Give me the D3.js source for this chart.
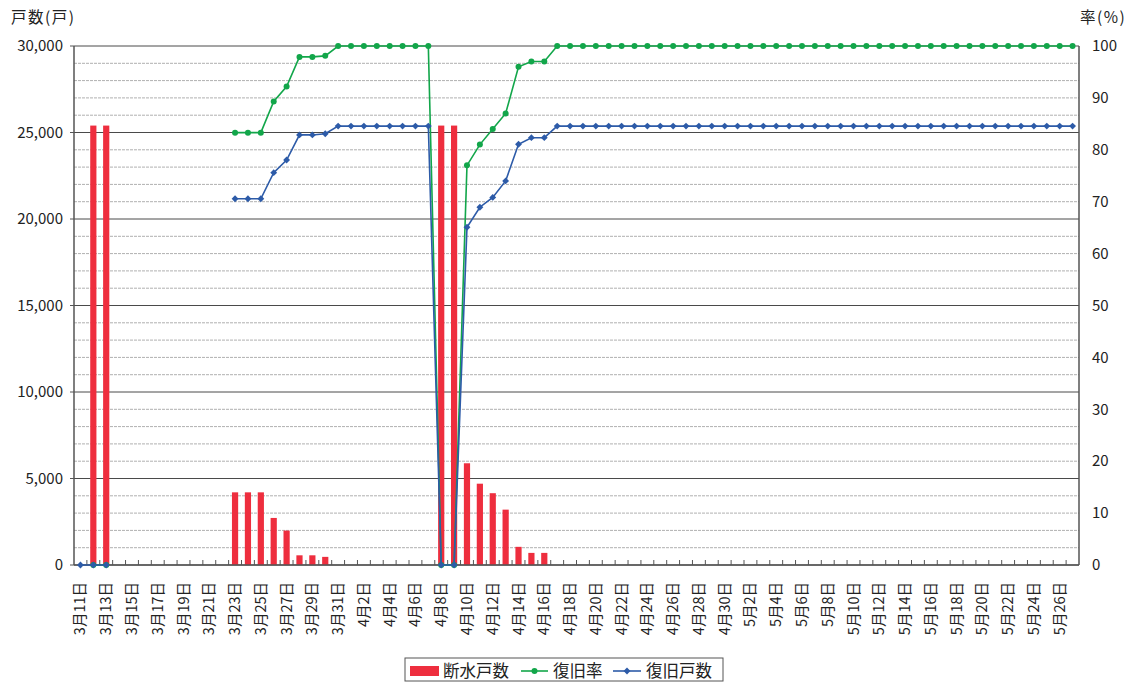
<!DOCTYPE html>
<html><head><meta charset="utf-8">
<script src="https://cdn.jsdelivr.net/npm/d3@7/dist/d3.min.js"></script>
<style>
body{margin:0;background:#fff}
text{font-family:"Noto Sans CJK JP","Noto Sans",sans-serif;fill:#222}
</style></head>
<body>
<svg id="c" width="1138" height="682"></svg>
<script>
// ---- categories (3/11 .. 5/27) ----
const monthSpans = [[3, 11, 31], [4, 1, 30], [5, 1, 27]];
const categories = [];
monthSpans.forEach(([m, s, e]) => { for (let d = s; d <= e; d++) categories.push(m + "月" + d + "日"); });

// ---- series ----
const outage = [
  0, 25400, 25400, null, null, null, null, null, null, null,
  null, null, 4200, 4200, 4200, 2720, 1990, 560, 560, 470,
  0, 0, 0, 0, 0, 0, 0, 0, 25400, 25400,
  5880, 4700, 4150, 3200, 1050, 700, 700, 0, 0, 0,
  0, 0, 0, 0, 0, 0, 0, 0, 0, 0,
  0, 0, 0, 0, 0, 0, 0, 0, 0, 0,
  0, 0, 0, 0, 0, 0, 0, 0, 0, 0,
  0, 0, 0, 0, 0, 0, 0, 0
];
const recovered = [
  0, 0, 0, null, null, null, null, null, null, null,
  null, null, 21170, 21170, 21170, 22680, 23410, 24860, 24860, 24930,
  25370, 25370, 25370, 25370, 25370, 25370, 25370, 25370, 0, 0,
  19520, 20680, 21250, 22200, 24320, 24700, 24700, 25370, 25370, 25370,
  25370, 25370, 25370, 25370, 25370, 25370, 25370, 25370, 25370, 25370,
  25370, 25370, 25370, 25370, 25370, 25370, 25370, 25370, 25370, 25370,
  25370, 25370, 25370, 25370, 25370, 25370, 25370, 25370, 25370, 25370,
  25370, 25370, 25370, 25370, 25370, 25370, 25370, 25370
];
const rate = [
  null, 0, 0, null, null, null, null, null, null, null,
  null, null, 83.3, 83.3, 83.3, 89.3, 92.2, 97.9, 97.9, 98.1,
  100, 100, 100, 100, 100, 100, 100, 100, 0, 0,
  77.0, 81.0, 84.0, 87.0, 96.0, 97.0, 97.0, 100, 100, 100,
  100, 100, 100, 100, 100, 100, 100, 100, 100, 100,
  100, 100, 100, 100, 100, 100, 100, 100, 100, 100,
  100, 100, 100, 100, 100, 100, 100, 100, 100, 100,
  100, 100, 100, 100, 100, 100, 100, 100
];
const leftTicks = [0, 5000, 10000, 15000, 20000, 25000, 30000];
const rightTicks = [0, 10, 20, 30, 40, 50, 60, 70, 80, 90, 100];
const minorTicks = d3.range(0, 30001, 1000);
const seriesNames = ["断水戸数", "復旧率", "復旧戸数"];

const C_RED = "#ee2e3e", C_GREEN = "#12a64a", C_BLUE = "#2d5ba8";

const svg = d3.select("#c");
const L = 74, R = 1079, T = 46, B = 565;
const x = d3.scaleBand().domain(categories).range([L, R]);
const yL = d3.scaleLinear().domain([0, 30000]).range([B, T]);
const yR = d3.scaleLinear().domain([0, 100]).range([B, T]);
const cx = i => x(categories[i]) + x.bandwidth() / 2;

// gridlines
svg.append("g").selectAll("line").data(minorTicks.filter(v => v % 5000 !== 0)).join("line")
  .attr("x1", L).attr("x2", R).attr("y1", d => yL(d)).attr("y2", d => yL(d))
  .attr("stroke", "#b0b0b0").attr("stroke-width", 1).attr("stroke-dasharray", "3,1");
svg.append("g").selectAll("line").data(leftTicks).join("line")
  .attr("x1", L).attr("x2", R).attr("y1", d => yL(d)).attr("y2", d => yL(d))
  .attr("stroke", "#4a4a4a").attr("stroke-width", 1);

// bars
const bw = 6.2;
svg.append("g").selectAll("rect").data(outage.map((v, i) => ({v, i})).filter(d => d.v)).join("rect")
  .attr("x", d => cx(d.i) - bw / 2).attr("width", bw)
  .attr("y", d => yL(d.v)).attr("height", d => B - yL(d.v))
  .attr("fill", C_RED);

// axes lines
const axG = svg.append("g").attr("stroke", "#555").attr("stroke-width", 1.5);
axG.append("line").attr("x1", L).attr("x2", L).attr("y1", T).attr("y2", B);
axG.append("line").attr("x1", R).attr("x2", R).attr("y1", T).attr("y2", B);
axG.append("line").attr("x1", L).attr("x2", R).attr("y1", B).attr("y2", B);
// x ticks (inward, at category boundaries)
svg.append("g").selectAll("line").data(categories.slice(1)).join("line")
  .attr("x1", d => x(d)).attr("x2", d => x(d)).attr("y1", B).attr("y2", B - 5)
  .attr("stroke", "#555").attr("stroke-width", 1);
// left ticks
svg.append("g").selectAll("line").data(leftTicks).join("line")
  .attr("x1", L - 4).attr("x2", L).attr("y1", d => yL(d)).attr("y2", d => yL(d))
  .attr("stroke", "#555");

// lines
function drawSeries(vals, scale, color, marker) {
  const pts = vals.map((v, i) => ({v, i}));
  const line = d3.line().defined(d => d.v != null).x(d => cx(d.i)).y(d => scale(d.v));
  svg.append("path").datum(pts).attr("d", line).attr("fill", "none")
    .attr("stroke", color).attr("stroke-width", 1.6);
  const g = svg.append("g");
  const valid = pts.filter(d => d.v != null);
  if (marker === "circle") {
    g.selectAll("circle").data(valid).join("circle")
      .attr("cx", d => cx(d.i)).attr("cy", d => scale(d.v)).attr("r", 3).attr("fill", color);
  } else {
    g.selectAll("path").data(valid).join("path")
      .attr("d", d3.symbol(d3.symbolDiamond2, 30)())
      .attr("transform", d => `translate(${cx(d.i)},${scale(d.v)})`).attr("fill", color);
  }
}
drawSeries(rate, yR, C_GREEN, "circle");
drawSeries(recovered, yL, C_BLUE, "diamond");

// tick labels
svg.append("g").selectAll("text").data(leftTicks).join("text")
  .attr("x", 63).attr("y", d => yL(d)).attr("dy", "0.35em").attr("text-anchor", "end")
  .attr("font-size", 15).text(d => d3.format(",")(d));
svg.append("g").selectAll("text").data(rightTicks).join("text")
  .attr("x", 1092).attr("y", d => yR(d)).attr("dy", "0.35em").attr("text-anchor", "start")
  .attr("font-size", 15).text(d => d);
svg.append("g").selectAll("text").data(categories.filter((d, i) => i % 2 === 0)).join("text")
  .attr("transform", d => `translate(${x(d) + x.bandwidth() / 2 + 5},582) rotate(-90)`)
  .attr("text-anchor", "end").attr("font-size", 14.5).text(d => d);

// axis titles
svg.append("text").attr("x", 11).attr("y", 23).attr("font-size", 15.5).attr("letter-spacing", 1.5).text("戸数(戸)");
svg.append("text").attr("x", 1080).attr("y", 23).attr("font-size", 15.5).attr("letter-spacing", 1.5).text("率(%)");

// legend
const lg = svg.append("g");
lg.append("rect").attr("x", 405).attr("y", 658).attr("width", 318).attr("height", 23)
  .attr("fill", "#fff").attr("stroke", "#555").attr("stroke-width", 1);
lg.append("rect").attr("x", 410).attr("y", 666).attr("width", 29).attr("height", 10).attr("fill", C_RED);
lg.append("text").attr("x", 443).attr("y", 677).attr("font-size", 16.5).text(seriesNames[0]);
lg.append("line").attr("x1", 521).attr("x2", 548).attr("y1", 671).attr("y2", 671).attr("stroke", C_GREEN).attr("stroke-width", 1.6);
lg.append("circle").attr("cx", 534.5).attr("cy", 671).attr("r", 3).attr("fill", C_GREEN);
lg.append("text").attr("x", 553).attr("y", 677).attr("font-size", 16.5).text(seriesNames[1]);
lg.append("line").attr("x1", 613).attr("x2", 641).attr("y1", 671).attr("y2", 671).attr("stroke", C_BLUE).attr("stroke-width", 1.6);
lg.append("path").attr("d", d3.symbol(d3.symbolDiamond2, 30)()).attr("transform", "translate(627,671)").attr("fill", C_BLUE);
lg.append("text").attr("x", 646).attr("y", 677).attr("font-size", 16.5).text(seriesNames[2]);
</script>
</body></html>
